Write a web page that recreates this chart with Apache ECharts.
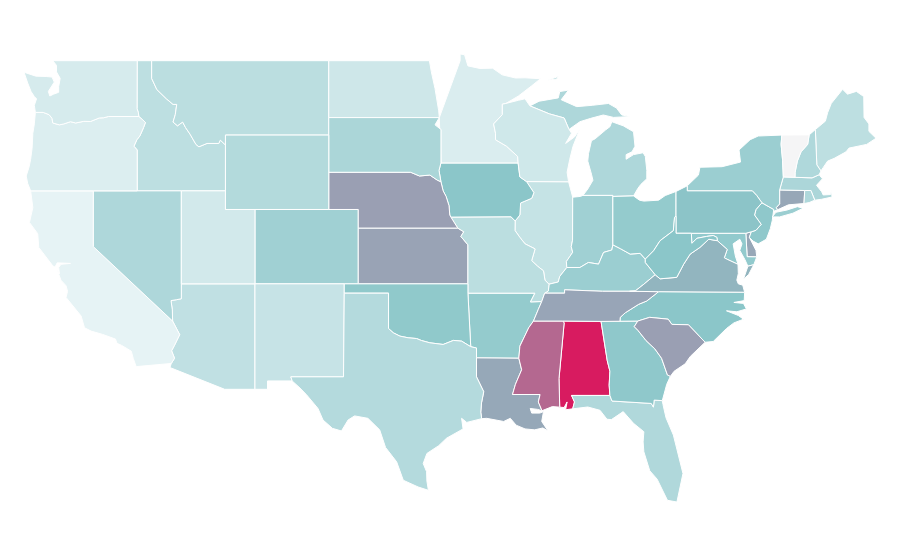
<!DOCTYPE html>
<html>
<head>
<meta charset="utf-8">
<title>USA</title>
<script src="https://cdn.jsdelivr.net/npm/echarts@6/dist/echarts.min.js"></script>
<style>
  html, body { margin: 0; padding: 0; background: #fff; }
  #main { width: 900px; height: 560px; }
</style>
</head>
<body>
<div id="main"></div>
<script>
// values
const stateNames = ['Alabama','Arizona','Arkansas','California','Colorado','Connecticut','Delaware','Florida','Georgia','Idaho','Illinois','Indiana','Iowa','Kansas','Kentucky','Louisiana','Maine','Maryland','Massachusetts','Michigan','Minnesota','Mississippi','Missouri','Montana','Nebraska','Nevada','New Hampshire','New Jersey','New Mexico','New York','North Carolina','North Dakota','Ohio','Oklahoma','Oregon','Pennsylvania','Rhode Island','South Carolina','South Dakota','Tennessee','Texas','Utah','Vermont','Virginia','Washington','West Virginia','Wisconsin','Wyoming'];
const stateValues = [100,35.4,47.5,25,44.2,70,70,39.8,49,36.3,34,44.2,50,72.5,45.6,69,36.3,48,41,40.4,28.3,85.4,36.8,36.8,75,40.4,40,49,33.8,45.6,50,31.6,47.5,48.6,27.7,51,40,75,41.2,71,38.7,30.5,0,61,29.4,50,31.3,39];
const rampColors = ['#f5f5f6','#e6f3f5','#8bc6c9','#9a9fb3','#d81b60'];

// shared borders, lon/lat
const waId = [[-117.03,49],[-117.04,46.42],[-116.95,46.2],[-116.92,46]];
const waOr = [[-116.92,46],[-118.98,46],[-119.3,45.93],[-119.6,45.92],[-120.2,45.73],[-120.65,45.74],[-121.2,45.65],[-121.55,45.72],[-122,45.6],[-122.3,45.55],[-122.75,45.65],[-122.8,45.9],[-123,46.1],[-123.4,46.22],[-123.93,46.22]];
const orId = [[-116.92,46],[-116.7,45.85],[-116.47,45.68],[-116.6,45.4],[-116.85,44.95],[-117.05,44.75],[-117.25,44.4],[-117.03,44.2],[-117.03,42]];
const idMt = [[-116.05,49],[-116.05,48.05],[-115.7,47.45],[-115.05,46.95],[-114.6,46.65],[-114.35,46.65],[-114.45,46.1],[-114.6,45.7],[-114.3,45.5],[-113.95,45.7],[-113.75,45.4],[-113.45,45.05],[-113.05,44.5],[-112.85,44.37],[-112.3,44.55],[-111.5,44.55],[-111.4,44.73],[-111.05,44.47]];
const nvCa = [[-120,42],[-120,39],[-114.63,35]];
const nvAz = [[-114.04,36.2],[-114.35,36.15],[-114.74,36.1],[-114.65,35.6],[-114.63,35]];
const caAz = [[-114.63,35],[-114.15,34.27],[-114.5,33.7],[-114.7,33.4],[-114.5,33],[-114.72,32.72]];
const ndMn = [[-97.23,49],[-97.1,48.4],[-96.85,47.5],[-96.6,46.3],[-96.56,45.94]];
const sdMn = [[-96.56,45.94],[-96.85,45.55],[-96.45,45.3],[-96.45,43.5]];
const sdIa = [[-96.45,43.5],[-96.58,43.1],[-96.45,42.49]];
const sdNe = [[-104.05,43],[-98.5,43],[-97.9,42.8],[-97.2,42.85],[-96.7,42.58],[-96.45,42.49]];
const neIa = [[-96.45,42.49],[-96.3,42],[-96.1,41.7],[-95.9,41.2],[-95.85,40.7],[-95.77,40.58]];
const neMo = [[-95.77,40.58],[-95.31,40]];
const ksMo = [[-95.31,40],[-94.9,39.8],[-95.1,39.55],[-94.62,39.1],[-94.62,37]];
const iaMn = [[-96.45,43.5],[-91.22,43.5]];
const iaWi = [[-91.22,43.5],[-91.1,42.75],[-90.65,42.5]];
const iaIl = [[-90.65,42.5],[-90.15,41.9],[-90.3,41.6],[-91.05,41.35],[-91.1,40.7],[-91.42,40.38]];
const iaMo = [[-91.42,40.38],[-91.7,40.6],[-95.77,40.58]];
const mnWi = [[-92.05,46.7],[-92.29,46.66],[-92.29,46.1],[-92.88,45.6],[-92.75,45.1],[-92.75,44.75],[-92,44.4],[-91.25,43.85],[-91.22,43.5]];
const wiMi = [[-90.42,46.57],[-89.1,46.14],[-88.1,45.92],[-87.8,45.35],[-87.6,45.1]];
const wiIl = [[-87.8,42.49],[-90.65,42.5]];
const ilIn = [[-87.52,41.66],[-87.53,39.35],[-87.62,39],[-87.52,38.7],[-87.95,38.2],[-87.92,37.88]];
const ilKy = [[-87.92,37.88],[-88.4,37.4],[-88.5,37.1],[-89.13,36.98]];
const ilMo = [[-89.13,36.98],[-89.4,37.2],[-89.5,37.7],[-89.9,37.95],[-90.3,38.25],[-90.07,38.88],[-90.75,39.15],[-91.1,39.5],[-91.43,39.87],[-91.42,40.38]];
const inKy = [[-84.8,39.1],[-84.87,38.82],[-85.43,38.69],[-85.77,38.06],[-86.46,38.15],[-87.03,37.88],[-87.92,37.88]];
const inMi = [[-86.82,41.76],[-84.8,41.76]];
const inOh = [[-84.8,41.7],[-84.8,39.1]];
const miOh = [[-84.8,41.7],[-83.4,41.73]];
const ohKy = [[-84.8,39.1],[-84.26,38.88],[-83.63,38.6],[-82.95,38.64],[-82.6,38.33]];
const ohWv = [[-82.6,38.33],[-82.04,38.78],[-81.6,39.32],[-80.7,39.86],[-80.62,40.58],[-80.52,40.64]];
const ohPa = [[-80.52,40.64],[-80.52,41.97]];
const kyWv = [[-82.6,38.33],[-82.6,38.15],[-81.93,37.49]];
const kyVa = [[-81.93,37.49],[-82.7,36.98],[-83.28,36.62],[-83.68,36.6]];
const kyTn = [[-83.68,36.6],[-85.5,36.6],[-88.07,36.68],[-88.07,36.5],[-89.42,36.5]];
const kyMo = [[-89.42,36.5],[-89.17,36.62],[-89.13,36.98]];
const wvPa = [[-80.52,40.64],[-80.52,39.72]];
const paMdW = [[-80.52,39.72],[-79.48,39.72]];
const wvMd = [[-79.48,39.72],[-79.45,39.18],[-79.1,39.45],[-78.45,39.55],[-78,39.6],[-77.75,39.5],[-77.72,39.32]];
const wvVa = [[-77.72,39.32],[-78.3,39.4],[-78.9,38.96],[-79.56,38.6],[-80,38.06],[-80.47,37.35],[-81.6,37.27],[-81.93,37.49]];
const paMd = [[-79.48,39.72],[-75.79,39.72]];
const paDe = [[-75.79,39.72],[-75.42,39.8]];
const paNj = [[-75.42,39.8],[-75.1,39.88],[-74.75,40.2],[-75.2,40.7],[-75.1,41],[-74.7,41.36]];
const paNy = [[-74.7,41.36],[-75.05,41.75],[-75.35,42],[-79.76,42],[-79.76,42.27]];
const nyNj = [[-74.7,41.36],[-73.9,41]];
const nyCt = [[-73.65,40.98],[-73.73,41.1],[-73.5,41.3],[-73.5,42.05]];
const nyMa = [[-73.5,42.05],[-73.25,42.75]];
const nyVt = [[-73.25,42.75],[-73.3,43.65],[-73.4,44.5],[-73.35,45]];
const vtNh = [[-71.5,45.01],[-71.6,44.5],[-72.05,44.1],[-72.3,43.6],[-72.45,43],[-72.46,42.73]];
const vtMa = [[-72.46,42.73],[-73.25,42.75]];
const nhMa = [[-72.46,42.73],[-71.3,42.7],[-70.82,42.87]];
const nhMe = [[-71.08,45.3],[-70.98,43.4],[-70.7,43.07]];
const maCt = [[-73.5,42.05],[-71.8,42.02]];
const maRi = [[-71.8,42.02],[-71.38,42.02],[-71.12,41.5]];
const ctRi = [[-71.8,42.02],[-71.85,41.32]];
const njDe = [[-75.42,39.8],[-75.55,39.5]];
const mdDe = [[-75.79,39.72],[-75.7,38.46],[-75.05,38.45]];
const mdVa = [[-77.72,39.32],[-77.05,38.85],[-77.25,38.4],[-77,38.3],[-76.32,38.05]];
const vaNc = [[-83.68,36.6],[-81.7,36.58],[-75.87,36.55]];
const tnNc = [[-81.7,36.58],[-82.5,36.08],[-83.05,35.9],[-83.95,35.45],[-84.3,35.2],[-84.32,34.99]];
const ncSc = [[-78.55,33.86],[-79.68,34.8],[-80.8,34.82],[-81.05,35.1],[-82.3,35.2],[-83.11,35]];
const ncGa = [[-83.11,35],[-84.32,34.99]];
const gaSc = [[-83.11,35],[-83.35,34.7],[-83.1,34.5],[-82.55,33.95],[-81.95,33.5],[-81.5,33],[-81.1,32.1],[-80.9,32.03]];
const gaTn = [[-84.32,34.99],[-85.6,34.98]];
const gaAl = [[-85.6,34.98],[-85.18,32.87],[-85,32.3],[-85.05,31.55],[-85,31]];
const gaFl = [[-85,31],[-84.86,30.7],[-82.2,30.57],[-82.05,30.37],[-82,30.75],[-81.45,30.72]];
const alFl = [[-85,31],[-87.6,31],[-87.4,30.65],[-87.52,30.28]];
const alTn = [[-85.6,34.98],[-88.2,35]];
const alMs = [[-88.2,35],[-88.1,34.9],[-88.45,31.9],[-88.4,30.37]];
const msTn = [[-88.2,35],[-90.18,35]];
const msAr = [[-90.18,35],[-90.5,34.64],[-91.1,33.65],[-91.17,33]];
const msLa = [[-91.17,33],[-90.98,32.38],[-91.4,31.6],[-91.6,31.05],[-89.73,31.05],[-89.85,30.65],[-89.6,30.18]];
const tnAr = [[-89.62,36.05],[-89.85,35.63],[-90.18,35]];
const tnMo = [[-89.42,36.5],[-89.62,36.05]];
const moAr = [[-89.62,36.05],[-90.38,36.03],[-90.08,36.5],[-94.62,36.5]];
const moOk = [[-94.62,37],[-94.62,36.5]];
const arOk = [[-94.62,36.5],[-94.43,33.62]];
const arTx = [[-94.43,33.62],[-94.04,33.55],[-94.04,33.02]];
const arLa = [[-94.04,33.02],[-91.17,33]];
const laTx = [[-94.04,33.02],[-94.04,32],[-93.55,31.2],[-93.7,30.6],[-93.75,30.1],[-93.69,29.75]];
const okTx = [[-94.43,33.62],[-95.05,33.92],[-95.6,33.96],[-96.3,33.74],[-97.2,33.83],[-97.76,33.95],[-98.1,34.06],[-98.67,34.1],[-99.23,34.19],[-99.68,34.37],[-100,34.6],[-100,36.5],[-103,36.5]];
const nmTx = [[-103,36.5],[-103.05,32],[-106.62,32],[-106.53,31.78]];

const rev = a => a.slice().reverse();
const ring = (...parts) => [].concat(...parts);

const stateShapes = {
  Washington: [ring([[-122.75,49]], waId, waOr, [[-124,46.6],[-123.85,46.95],[-124,47.07],[-124.22,47.34],[-124.45,47.8],[-124.7,48.38],[-123.9,48.17],[-123.2,48.15],[-122.8,48.12],[-122.65,47.85],[-123.05,47.35],[-122.95,47.1],[-122.7,47.2],[-122.35,47.3],[-122.35,47.6],[-122.25,48.05],[-122.5,48.4],[-122.5,48.75]])],
  Oregon: [ring(rev(waOr), orId, [[-120,42],[-124.25,42],[-124.45,42.4],[-124.55,42.8],[-124.35,43.3],[-124.25,43.7],[-124.15,44.3],[-124.1,45.1],[-124,45.6]])],
  Idaho: [ring(waId, orId, [[-114.04,42],[-111.05,42]], rev(idMt))],
  Montana: [ring(idMt, [[-111.05,45],[-104.05,45],[-104.05,49]])],
  Wyoming: [[[-111.05,45],[-104.05,45],[-104.05,41],[-111.05,41]]],
  'North Dakota': [ring([[-104.05,49]], ndMn, [[-104.05,45.94]])],
  'South Dakota': [ring([[-104.05,45.94]], sdMn, sdIa, rev(sdNe))],
  Minnesota: [ring(rev(ndMn), rev(sdMn), iaMn, rev(mnWi), [[-91.2,47.1],[-90.3,47.65],[-89.7,48.03],[-90.75,48.08],[-91.4,48.07],[-92.3,48.24],[-92.95,48.6],[-93.8,48.58],[-94.62,48.72],[-94.85,49.32],[-95.15,49.36],[-95.15,49]])],
  Nebraska: [ring(sdNe, neIa, neMo, [[-102.05,40],[-102.05,41],[-104.05,41]])],
  Iowa: [ring(iaMn, iaWi, iaIl, iaMo, rev(neIa), rev(sdIa))],
  Wisconsin: [ring(mnWi, iaWi, rev(wiIl), [[-87.9,43],[-87.72,43.7],[-87.5,44.4],[-87.05,45.3],[-87.4,44.9],[-88,44.55],[-87.6,45.1]], rev(wiMi), [[-90.75,46.95],[-91.2,46.87]])],
  Michigan: [
    ring(wiMi, [[-87.83,45.27],[-87.03,45.72],[-86.3,45.9],[-85.45,46.08],[-84.75,45.95],[-83.6,46],[-84.2,46.08],[-84.55,46.45],[-85.1,46.7],[-86.2,46.6],[-87.25,46.53],[-88.3,46.9],[-87.8,47.42],[-88.4,47.34],[-88.5,47],[-89.8,46.82]]),
    ring(inMi, [[-84.8,41.7]], miOh, [[-83.1,42.14],[-82.9,42.35],[-82.5,42.65],[-82.5,43.1],[-82.6,43.85],[-82.75,44.05],[-83.4,43.95],[-83.9,43.7],[-83.9,43.95],[-83.5,44.1],[-83.3,44.4],[-83.4,45.18],[-84.1,45.5],[-84.87,45.72],[-85,45.45],[-85.3,45.27],[-86,44.8],[-86.25,44.7],[-86.45,44],[-86.5,43.6],[-86.25,42.9],[-86.15,42.57],[-86.5,42.1]]),
    [[-89.2,47.95],[-88.5,48.15],[-88.6,48.02]]
  ],
  Illinois: [ring(wiIl, iaIl, rev(ilMo), rev(ilKy), rev(ilIn))],
  Indiana: [ring(ilIn, rev(inKy), rev(inOh), rev(inMi), [[-87,41.7]])],
  Ohio: [ring(inOh, ohKy, ohWv, ohPa, [[-81.25,41.75],[-81.7,41.5],[-82.7,41.45],[-83,41.5]], rev(miOh))],
  Kentucky: [ring(ohKy, kyWv, kyVa, kyTn, kyMo, rev(ilKy), rev(inKy))],
  Missouri: [ring(rev(iaMo), rev(ilMo), rev(kyMo), tnMo, moAr, rev(moOk), rev(ksMo), rev(neMo))],
  Kansas: [ring([[-102.05,40]], ksMo, [[-102.05,37]])],
  Colorado: [[[-109.05,41],[-102.05,41],[-102.05,37],[-109.05,37]]],
  Utah: [[[-114.04,42],[-111.05,42],[-111.05,41],[-109.05,41],[-109.05,37],[-114.04,37]]],
  Nevada: [ring(nvCa, rev(nvAz), [[-114.04,42]])],
  California: [ring([[-124.25,42]], nvCa, caAz, [[-117.1,32.55],[-117.3,33],[-117.43,33.38],[-118.1,33.7],[-118.4,33.8],[-118.5,34.03],[-119.36,34.28],[-120.15,34.46],[-120.6,34.64],[-120.83,35.27],[-121.85,36.27],[-121.75,36.6],[-121.85,36.9],[-122.2,37.2],[-122.45,37.75],[-122.3,37.54],[-122.35,37.88],[-122.2,38.05],[-121.55,38.1],[-122.45,38.13],[-122.6,37.9],[-122.75,37.97],[-123.7,38.96],[-123.77,39.7],[-124.33,40.3],[-124.1,41.1]])],
  Arizona: [ring([[-114.04,37],[-109.05,37],[-109.05,31.33],[-111.1,31.33],[-114.81,32.5]], rev(caAz), rev(nvAz))],
  'New Mexico': [ring([[-109.05,37],[-103,37]], nmTx, [[-108.2,31.78],[-108.2,31.33],[-109.05,31.33]])],
  Oklahoma: [ring([[-103,37]], moOk, arOk, okTx)],
  Texas: [ring(rev(okTx), arTx, laTx, [[-94.7,29.55],[-95.05,29.77],[-94.95,29.2],[-96.07,28.7],[-96.6,28.3],[-97.4,27.88],[-97.65,27.34],[-97.42,26.9],[-97.4,26.4],[-97.3,25.9],[-98,26.08],[-99,26.44],[-99.45,27.43],[-100.2,28.2],[-100.6,29.15],[-101.4,29.77],[-102.3,29.9],[-102.74,29.68],[-103.19,29.09],[-103.8,29.23],[-104.44,29.68],[-104.78,30.3],[-105.56,31.04],[-106,31.4]], rev(nmTx).slice(0,3))],
  Arkansas: [ring(moAr, arOk, arTx, arLa, rev(msAr), rev(tnAr))],
  Louisiana: [ring(arLa, msLa, [[-89.9,30.25],[-90.4,30.3],[-90.3,30.05],[-89.75,30.05],[-89.5,30.13],[-89.62,29.6],[-89.2,29.1],[-89.55,29.25],[-90.1,29.15],[-90.75,29.2],[-91.35,29.4],[-91.75,29.77],[-92.2,29.6],[-93.35,29.77]], rev(laTx))],
  Mississippi: [ring(rev(msTn), alMs, [[-88.9,30.4]], rev(msLa), rev(msAr))],
  Alabama: [ring(alMs, [[-88.1,30.35],[-87.9,30.65],[-88,30.23]], rev(alFl), rev(gaAl), alTn)],
  Tennessee: [ring(kyTn, tnMo, tnAr, rev(msTn), rev(alTn), rev(gaTn), rev(tnNc))],
  Georgia: [ring(rev(gaTn), rev(ncGa), gaSc, [[-81.15,31.6]], rev(gaFl), rev(gaAl))],
  'South Carolina': [ring(rev(gaSc), rev(ncSc), [[-79.55,33.1],[-79.9,32.7],[-80.65,32.3]])],
  Florida: [ring(alFl, [[-86.5,30.38],[-85.67,30.2],[-85.2,29.72],[-84.9,29.7],[-84.1,30.13],[-83.4,29.5],[-82.7,29.05],[-82.75,28.5],[-82.7,27.97],[-82.3,26.95],[-81.8,26.5],[-81.1,25.36],[-80.46,25.27],[-80.05,26.8],[-80.7,28.87],[-81.2,29.8],[-81.4,30.5]], rev(gaFl))],
  'North Carolina': [ring(rev(vaNc).slice(0,-1), tnNc, rev(ncGa), rev(ncSc), [[-78,33.9],[-77.1,34.6],[-76.6,34.9],[-75.95,35.1],[-76.3,35.3],[-77.1,35.55],[-76.4,35.5],[-75.75,35.65],[-75.95,35.95],[-76.6,36],[-75.9,36.1]])],
  Virginia: [
    ring(vaNc, [[-76,36.93],[-76.3,37],[-76.4,37.2],[-76.3,37.55]], rev(mdVa), wvVa, kyVa),
    [[-75.25,38.03],[-75.65,37.95],[-75.95,37.25],[-75.6,37.5]]
  ],
  'West Virginia': [ring(wvPa, paMdW, wvMd, wvVa, rev(kyWv), ohWv)],
  Maryland: [ring(paMd, mdDe, [[-75.25,38.03],[-75.65,37.95],[-75.85,38.3],[-76.2,38.8],[-76.05,39.15],[-76.2,39.4],[-76.65,39.15],[-76.5,38.5]], rev(mdVa), rev(wvMd))],
  Delaware: [ring(paDe, njDe, [[-75.1,38.8]], rev(mdDe).slice(0,2))],
  Pennsylvania: [ring(rev(ohPa), wvPa, paMdW, paMd, paDe, paNj, paNy)],
  'New Jersey': [ring(nyNj, [[-74,40.4],[-74.13,39.97],[-74.4,39.4],[-74.95,39.15],[-75.3,39.3]], rev(njDe), paNj)],
  'New York': [
    ring(paNy, [[-79,42.85],[-78.9,43.27],[-77.4,43.3],[-76.15,43.55],[-76.25,44.2],[-75.5,44.75],[-74.95,44.95]], rev(nyVt), rev(nyMa), rev(nyCt), [[-73.9,40.9]], rev(nyNj)),
    [[-74,40.6],[-73.75,40.85],[-73,40.97],[-72.3,41.15],[-71.9,41.07],[-72.6,40.8],[-73.5,40.6]]
  ],
  Connecticut: [ring(nyCt, maCt, ctRi, [[-72.9,41.25]])],
  'Rhode Island': [ring(maRi, [[-71.5,41.37]], rev(ctRi))],
  Massachusetts: [ring(nyMa, rev(vtMa), nhMa, [[-70.6,42.65],[-71,42.3],[-70.65,41.95],[-70.55,41.78],[-70.05,41.8],[-70,42.05],[-69.95,41.67],[-70.65,41.55]], rev(maRi), rev(maCt))],
  Vermont: [ring(nyVt, vtNh, vtMa)],
  'New Hampshire': [ring(vtNh, nhMa, rev(nhMe))],
  Maine: [ring(nhMe, [[-70.55,43.25],[-70.25,43.6],[-69.8,43.75],[-69,44.1],[-68.8,44.3],[-67.6,44.5],[-66.97,44.83],[-67.45,45.2],[-67.45,45.6],[-67.78,45.95],[-67.8,47.07],[-68.3,47.35],[-68.9,47.2],[-69.23,47.46],[-70,46.7],[-70.25,46.2],[-70.4,45.75]])]
};

const usaGeo = {
  type: 'FeatureCollection',
  features: stateNames.map(name => ({
    type: 'Feature',
    properties: { name: name },
    geometry: { type: 'MultiPolygon', coordinates: stateShapes[name].map(r => [r.concat([r[0]])]) }
  }))
};

echarts.registerMap('USA', usaGeo);

const chart = echarts.init(document.getElementById('main'), null, { renderer: 'canvas' });
chart.setOption({
  backgroundColor: '#fff',
  animation: false,
  visualMap: {
    show: false,
    type: 'continuous',
    min: 0,
    max: 100,
    inRange: { color: rampColors }
  },
  series: [{
    type: 'map',
    map: 'USA',
    roam: false,
    silent: true,
    aspectScale: 0.797,
    left: 24,
    right: 24,
    top: 54,
    bottom: 58,
    label: { show: false },
    itemStyle: { borderColor: '#fff', borderWidth: 1 },
    data: stateNames.map((name, i) => ({ name: name, value: stateValues[i] }))
  }]
});
</script>
</body>
</html>
